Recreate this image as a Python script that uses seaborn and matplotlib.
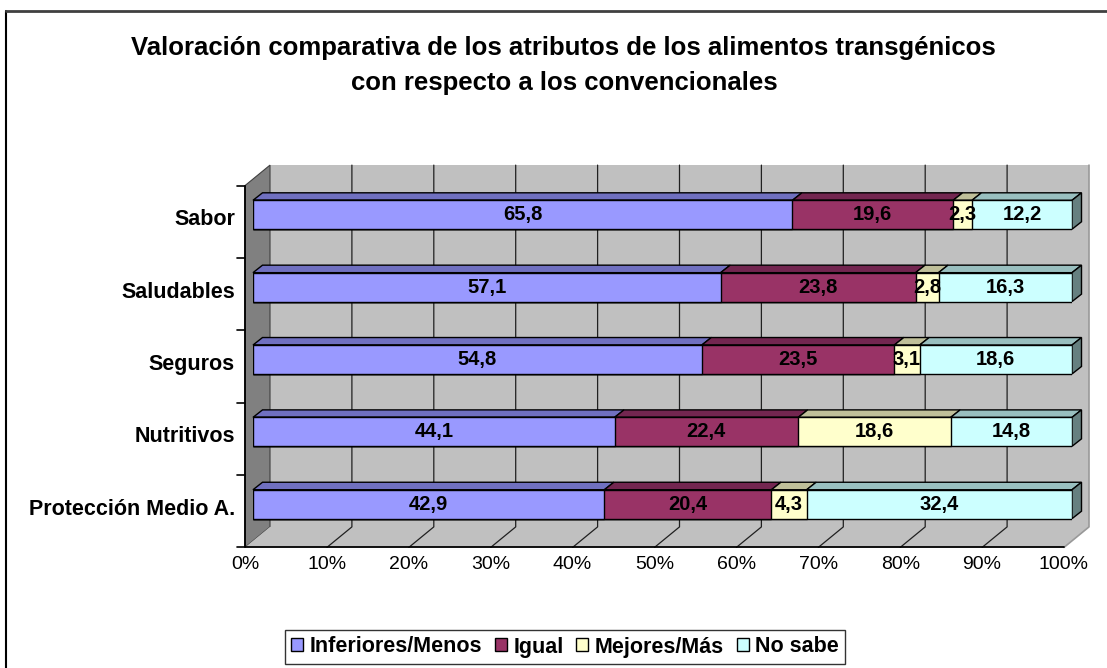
import numpy as np
import pandas as pd
import matplotlib
matplotlib.use("Agg")
import matplotlib.pyplot as plt
import seaborn as sns
from matplotlib.patches import Polygon, Rectangle
from matplotlib.lines import Line2D

# ---------------- data ----------------
categories = ["Sabor", "Saludables", "Seguros", "Nutritivos", "Protección Medio A."]
series = ["Inferiores/Menos", "Igual", "Mejores/Más", "No sabe"]
inferiores = [65.8, 57.1, 54.8, 44.1, 42.9]
igual = [19.6, 23.8, 23.5, 22.4, 20.4]
mejores = [2.3, 2.8, 3.1, 18.6, 4.3]
no_sabe = [12.2, 16.3, 18.6, 14.8, 32.4]
xtick_values = [0, 10, 20, 30, 40, 50, 60, 70, 80, 90, 100]
xtick_labels = ["0%", "10%", "20%", "30%", "40%", "50%", "60%", "70%", "80%", "90%", "100%"]
title_lines = ["Valoración comparativa de los atributos de los alimentos transgénicos",
               "con respecto a los convencionales"]

front_colors = ["#9999FF", "#993366", "#FFFFCC", "#CCFFFF"]
top_colors = ["#7070C0", "#732650", "#BFBF99", "#99BFBF"]
side_color = "#668080"

# ---------------- setup ----------------
sns.set_theme(style="white")
plt.rcParams["font.family"] = ["Liberation Sans", "DejaVu Sans"]
plt.rcParams["text.color"] = "black"

W, H = 1107, 668
fig = plt.figure(figsize=(W / 100, H / 100), dpi=100)
fig.patch.set_facecolor("white")
L, R, T, B = 253, 1072, 178.6, 540.4
ax = fig.add_axes([L / W, 1 - B / H, (R - L) / W, (B - T) / H])

n = len(categories)
PXX = (R - L) / 100.0
PXY = (B - T) / n


def off(dxp, dyup):
    return (dxp / PXX, -dyup / PXY)


F = off(-8, -7)      # front plane
BK = off(17, 13.5)   # back wall plane
D = off(9.5, 7.5)    # bar depth


def P(x, y, o):
    return (x + o[0], y + o[1])


ylo, yhi = -0.5, n - 0.5

# walls and floor
ax.add_patch(Polygon([P(0, ylo, BK), P(100, ylo, BK), P(100, yhi, BK), P(0, yhi, BK)],
                     closed=True, fc="#C0C0C0", ec="none", zorder=-3, clip_on=False))
ax.add_patch(Polygon([P(0, ylo, F), P(0, ylo, BK), P(0, yhi, BK), P(0, yhi, F)],
                     closed=True, fc="#808080", ec="#404040", lw=0.8, zorder=-3, clip_on=False))
ax.add_patch(Polygon([P(0, yhi, F), P(100, yhi, F), P(100, yhi, BK), P(0, yhi, BK)],
                     closed=True, fc="#C0C0C0", ec="none", zorder=-3, clip_on=False))
pts = [P(100, ylo, BK), P(100, yhi, BK), P(100, yhi, F)]
ax.add_line(Line2D([p[0] for p in pts], [p[1] for p in pts], color="#999999", lw=1.2,
                   zorder=-2, clip_on=False))
for p in xtick_values[1:-1]:
    pts = [P(p, ylo, BK), P(p, yhi, BK), P(p, yhi, F)]
    ax.add_line(Line2D([q[0] for q in pts], [q[1] for q in pts], color="#202020", lw=0.9,
                       zorder=-2, clip_on=False))
pts = [P(0, ylo, F), P(0, yhi, F), P(100, yhi, F)]
ax.add_line(Line2D([q[0] for q in pts], [q[1] for q in pts], color="black", lw=1.3,
                   zorder=-1, clip_on=False))
for e in np.arange(ylo, yhi + 0.01, 1.0):
    x0, y0 = P(0, e, F)
    ax.add_line(Line2D([x0 - 8 / PXX, x0], [y0, y0], color="black", lw=1.2, clip_on=False))

# ---------------- bars ----------------
vals = np.array([inferiores, igual, mejores, no_sabe], dtype=float)
vals = vals / vals.sum(axis=0) * 100.0
cum = np.cumsum(vals, axis=0)
starts = cum - vals

for k in reversed(range(len(series))):
    sns.barplot(x=cum[k], y=categories, orient="h", color=front_colors[k], saturation=1,
                width=0.4, edgecolor="black", linewidth=1, errorbar=None, ax=ax, zorder=2)

raw = [inferiores, igual, mejores, no_sabe]
for i in range(n):
    yt = i - 0.2
    for k in range(len(series)):
        x0, x1 = starts[k][i], cum[k][i]
        ax.add_patch(Polygon([(x0, yt), (x1, yt), P(x1, yt, D), P(x0, yt, D)], closed=True,
                             fc=top_colors[k], ec="black", lw=1, zorder=1.5, clip_on=False))
        ax.text((x0 + x1) / 2, i, f"{raw[k][i]:.1f}".replace(".", ","), ha="center",
                va="center", fontsize=14.5, fontweight="bold", color="black", zorder=5)
    ax.add_patch(Polygon([(100, yt), P(100, yt, D), P(100, yt + 0.4, D), (100, yt + 0.4)],
                         closed=True, fc=side_color, ec="black", lw=1, zorder=1.5, clip_on=False))

ax.set_xlim(0, 100)
ax.set_ylim(yhi, ylo)
ax.axis("off")

for p, lab in zip(xtick_values, xtick_labels):
    x, y = P(p, yhi, F)
    ax.text(x, y + 17 / PXY, lab, ha="center", va="center", fontsize=14, color="black")
for i, c in enumerate(categories):
    x, y = P(0, i, F)
    ax.text(x - 10 / PXX, i + 5 / PXY, c, ha="right", va="center", fontsize=15.5,
            fontweight="bold", color="black")

fig.text(563 / W, 1 - 48 / H, title_lines[0], ha="center", va="center", fontsize=18.5,
         fontweight="bold", color="black")
fig.text(564 / W, 1 - 83 / H, title_lines[1], ha="center", va="center", fontsize=18.5,
         fontweight="bold", color="black")

handles = [Rectangle((0, 0), 1, 1, fc=c, ec="black", lw=1) for c in front_colors]
leg = fig.legend(handles, series, loc="center", bbox_to_anchor=(565 / W, 1 - 647 / H), ncol=4,
                 frameon=True, fancybox=False, edgecolor="black",
                 prop={"weight": "bold", "size": 15.5}, handlelength=0.55, handleheight=0.55,
                 handletextpad=0.3, columnspacing=0.6, borderpad=0.3, borderaxespad=0)
leg.get_frame().set_linewidth(1)
for t in leg.get_texts():
    t.set_color("black")

fig.add_artist(Line2D([6 / W, 6 / W], [0, 1 - 11 / H], color="black", lw=1.5,
                      transform=fig.transFigure))
fig.add_artist(Line2D([6 / W, 1], [1 - 11 / H, 1 - 11 / H], color="#404040", lw=2,
                      transform=fig.transFigure))

fig.savefig("out.png", dpi=100)
